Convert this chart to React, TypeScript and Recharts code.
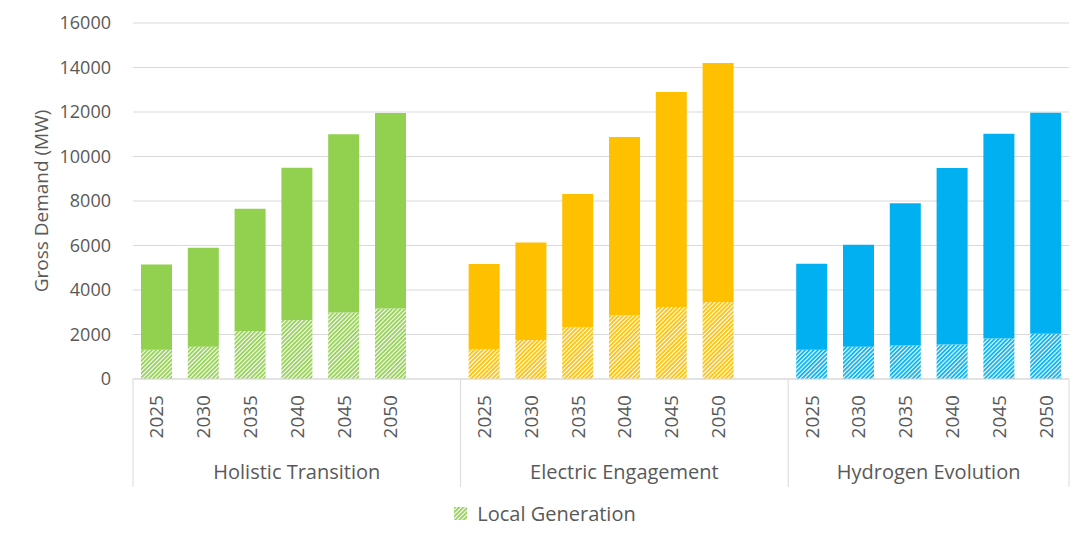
import { BarChart, Bar, XAxis, YAxis, CartesianGrid, Legend, Cell } from 'recharts'

const years = ['2025', '2030', '2035', '2040', '2045', '2050']
const scenarios = ['Holistic Transition', 'Electric Engagement', 'Hydrogen Evolution']
const scenarioColors = ['#92D050', '#FFC000', '#00B0F0']

const holisticTotal = [5150, 5900, 7650, 9500, 11000, 11950]
const holisticLocal = [1320, 1450, 2160, 2650, 2990, 3170]
const electricTotal = [5170, 6130, 8310, 10880, 12900, 14200]
const electricLocal = [1350, 1750, 2330, 2860, 3240, 3460]
const hydrogenTotal = [5180, 6030, 7900, 9480, 11020, 11970]
const hydrogenLocal = [1320, 1450, 1510, 1550, 1820, 2030]

const yTicks = [0, 2000, 4000, 6000, 8000, 10000, 12000, 14000, 16000]

const totals = [holisticTotal, electricTotal, hydrogenTotal]
const locals = [holisticLocal, electricLocal, hydrogenLocal]

type Row = { key: string; year: string; group: number; first: boolean; local?: number; rest?: number }

// one blank slot between scenarios, none after the last
const rows: Row[] = []
scenarios.forEach((_, s) => {
  years.forEach((y, i) => {
    rows.push({ key: `${s}-${y}`, year: y, group: s, first: i === 0, local: locals[s][i], rest: totals[s][i] - locals[s][i] })
  })
  if (s < scenarios.length - 1) rows.push({ key: `gap-${s}`, year: '', group: s, first: false })
})

const TEXT = '#595959'
const LINE = '#d9d9d9'
const FONT = '"Open Sans", sans-serif'

function YearTick(props: any) {
  const { x, y, payload, width } = props
  const idx = payload.index ?? rows.findIndex((r) => r.key === payload.value)
  const row = rows[idx]
  const half = payload.offset || width / (rows.length * 2)
  const span = row.group < scenarios.length - 1 ? years.length + 1 : years.length
  const isLast = idx === rows.length - 1
  return (
    <g>
      {row.year && (
        <text
          x={x}
          y={y + 16}
          transform={`rotate(-90, ${x}, ${y + 16})`}
          textAnchor="end"
          dominantBaseline="central"
          fill={TEXT}
          fontSize={19}
          fontFamily={FONT}
        >
          {row.year}
        </text>
      )}
      {row.first && <line x1={x - half} x2={x - half} y1={y} y2={y + 108} stroke={LINE} />}
      {isLast && <line x1={x + half} x2={x + half} y1={y} y2={y + 108} stroke={LINE} />}
      {row.first && (
        <text x={x - half + span * half} y={y + 100} textAnchor="middle" fill={TEXT} fontSize={20} fontFamily={FONT}>
          {scenarios[row.group]}
        </text>
      )}
    </g>
  )
}

function LegendContent() {
  return (
    <div style={{ display: 'flex', justifyContent: 'center', alignItems: 'center', fontFamily: FONT, fontSize: 20, color: TEXT }}>
      <svg width={13} height={13} style={{ marginRight: 10 }}>
        <rect width={13} height={13} fill="url(#hatch-0)" />
      </svg>
      <span>Local Generation</span>
    </div>
  )
}

export default function App() {
  return (
    <div style={{ position: 'absolute', left: 0, top: 0, background: '#fff' }}>
      <BarChart width={1090} height={547} data={rows} margin={{ top: 23, right: 21, left: 0, bottom: 20 }} barSize={31}>
        <defs>
          {scenarioColors.map((c, i) => (
            <pattern key={i} id={`hatch-${i}`} patternUnits="userSpaceOnUse" width={3} height={3} patternTransform="rotate(45)">
              <rect width={3} height={3} fill="#fff" />
              <rect width={1.8} height={3} fill={c} />
            </pattern>
          ))}
        </defs>
        <CartesianGrid vertical={false} stroke={LINE} />
        <XAxis
          dataKey="key"
          interval={0}
          height={121}
          tickLine={false}
          tickSize={0}
          tickMargin={0}
          axisLine={{ stroke: LINE }}
          tick={<YearTick />}
        />
        <YAxis
          domain={[0, 16000]}
          ticks={yTicks}
          width={133}
          axisLine={false}
          tickLine={false}
          tickSize={0}
          tickMargin={22}
          tick={{ fill: TEXT, fontSize: 18, fontFamily: FONT }}
          label={{
            value: 'Gross Demand (MW)',
            angle: -90,
            position: 'insideLeft',
            offset: 41,
            textAnchor: 'middle',
            style: { textAnchor: 'middle', fill: TEXT, fontSize: 19, fontFamily: FONT },
          }}
        />
        <Bar dataKey="local" stackId="a" isAnimationActive={false}>
          {rows.map((r) => (
            <Cell key={r.key} fill={`url(#hatch-${r.group})`} />
          ))}
        </Bar>
        <Bar dataKey="rest" stackId="a" isAnimationActive={false}>
          {rows.map((r) => (
            <Cell key={r.key} fill={scenarioColors[r.group]} />
          ))}
        </Bar>
        <Legend verticalAlign="bottom" content={<LegendContent />} wrapperStyle={{ left: 0, width: 1090 }} />
      </BarChart>
    </div>
  )
}
